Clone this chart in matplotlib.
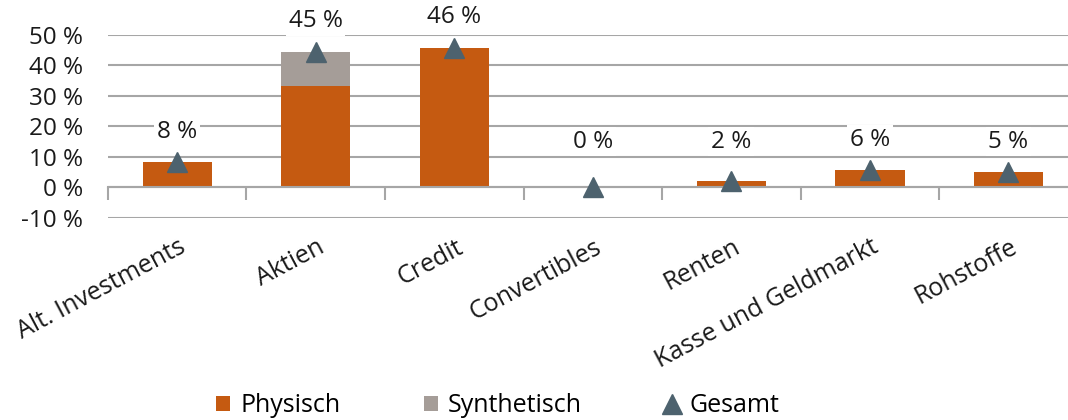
import matplotlib.pyplot as plt
import numpy as np
from matplotlib.patches import Patch
from matplotlib.lines import Line2D

# data (in %)
categories = ['Alt. Investments', 'Aktien', 'Credit', 'Convertibles',
              'Renten', 'Kasse und Geldmarkt', 'Rohstoffe']
physisch = [8.2, 33.2, 45.7, 0.0, 2.1, 5.6, 5.0]
synthetisch = [0.0, 11.3, 0.0, 0.0, 0.0, 0.0, 0.0]
gesamt = [8.2, 44.5, 45.7, 0.0, 2.1, 5.6, 5.0]
labels = ['8 %', '45 %', '46 %', '0 %', '2 %', '6 %', '5 %']
yticks = [-10, 0, 10, 20, 30, 40, 50]

c_phys = '#C55A11'
c_syn = '#A59D98'
c_ges = '#4D626E'
c_grid = '#A6A6A6'
c_text = '#1a1a1a'

plt.rcParams['font.family'] = ['Open Sans', 'DejaVu Sans']

fig = plt.figure(figsize=(10.68, 4.2), dpi=100)
ax = fig.add_axes([0.101, 0.481, 0.899, 0.436])

x = np.arange(len(categories))
ax.bar(x, physisch, width=0.5, color=c_phys, zorder=2)
ax.bar(x, synthetisch, width=0.5, bottom=physisch, color=c_syn, zorder=2)
ax.plot(x, gesamt, linestyle='none', marker='^', markersize=15,
        color=c_ges, zorder=3)

for i, v in enumerate(gesamt):
    ly = max(v + 10, 15)
    ax.text(i, ly, labels[i], ha='center', va='center', fontsize=17.5,
            color=c_text, zorder=4, clip_on=False,
            bbox=dict(facecolor='white', edgecolor='none', pad=2))

ax.set_yticks(yticks)
ax.set_yticklabels([f'{t} %' for t in yticks])
ax.yaxis.grid(True, color=c_grid, linewidth=1.5, zorder=0)
ax.tick_params(axis='y', length=0, labelsize=17.5, pad=18, labelcolor=c_text)
for s in ax.spines.values():
    s.set_visible(False)

# category axis at zero with divider ticks
ax.spines['bottom'].set_visible(True)
ax.spines['bottom'].set_position(('data', 0))
ax.spines['bottom'].set_color(c_grid)
ax.spines['bottom'].set_linewidth(1.5)
ax.set_xticks(np.arange(len(categories) + 1) - 0.5, minor=True)
ax.tick_params(axis='x', which='minor', length=9, width=1.5, color=c_grid)
ax.set_xticks(x)
ax.set_xticklabels([])
ax.tick_params(axis='x', which='major', length=0)
ax.set_xlim(-0.5, 6.43)
ax.set_ylim(-10, 50)

for i, c in enumerate(categories):
    ax.annotate(c, xy=(i, -10), xytext=(1, -12), textcoords='offset points',
                xycoords='data', ha='right', va='top', rotation=28,
                rotation_mode='anchor', fontsize=18, color=c_text,
                annotation_clip=False)

handles = [Patch(facecolor=c_phys, edgecolor='none'),
           Patch(facecolor=c_syn, edgecolor='none'),
           Line2D([], [], linestyle='none', marker='^', markersize=15, color=c_ges)]
fig.legend(handles, ['Physisch', 'Synthetisch', 'Gesamt'], loc='lower center',
           bbox_to_anchor=(0.466, -0.05), ncol=3, frameon=False, fontsize=18,
           handlelength=0.55, handleheight=0.55, handletextpad=0.4,
           columnspacing=3.35)

fig.savefig('out.png', dpi=100)
